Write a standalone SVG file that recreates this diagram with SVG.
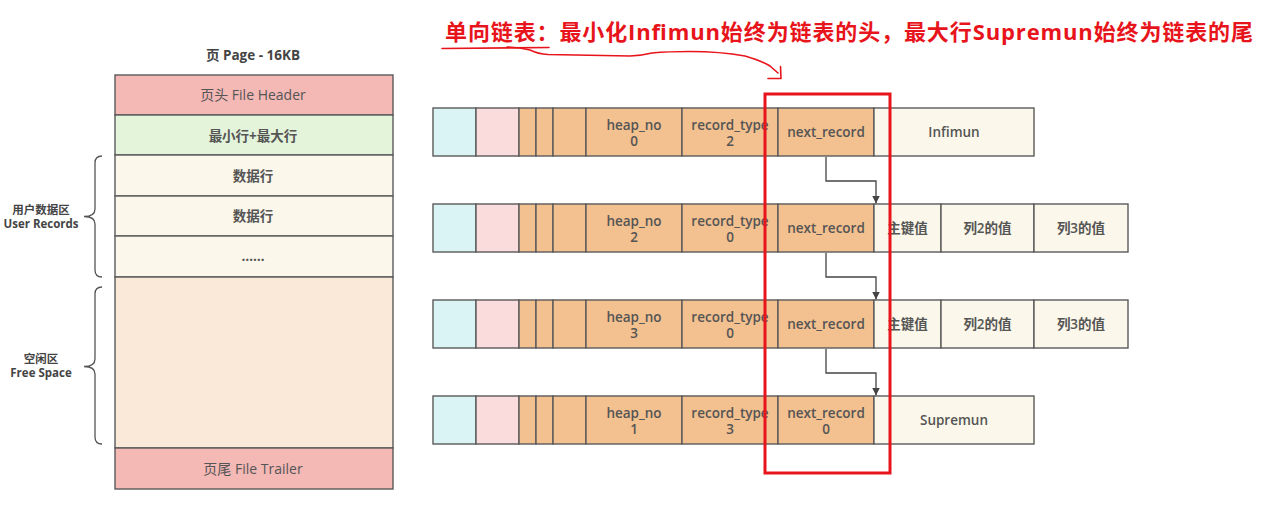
<svg xmlns="http://www.w3.org/2000/svg" width="1276" height="516" viewBox="0 0 1276 516">
<style>
text{font-family:'Open Sans','Noto Sans CJK SC',sans-serif;fill:#555;text-anchor:middle}
.b{font-weight:700}
.sb{font-weight:600;font-size:13.5px}
.c{stroke:#5a5a5a;stroke-width:1.4}
.cy{fill:#DAF3F4}.pk{fill:#F9DCDB}.or{fill:#F3C08F}.cr{fill:#FBF7EA}
.hd{fill:#F4B8B5}.gr{fill:#E3F4DA}.fr{fill:#FAE8D8}
.br{fill:none;stroke:#555;stroke-width:1.3}
.conn{fill:none;stroke:#444;stroke-width:1.3}
.red{fill:none;stroke:#E8141B;stroke-width:1.6;stroke-linecap:round;stroke-linejoin:round}
</style>
<defs>
<marker id="ah" viewBox="0 0 10 10" refX="10" refY="5" markerWidth="8" markerHeight="8" orient="auto" markerUnits="userSpaceOnUse">
<path d="M0,0 L10,5 L0,10 z" fill="#444"/>
</marker>
</defs>
<rect width="1276" height="516" fill="#fff"/>

<g id="page">
<text x="253" y="60" class="b" style="font-size:13.5px;fill:#444">页 Page - 16KB</text>
<rect class="c hd" x="115" y="75" width="278" height="40"/>
<text x="253" y="100" style="font-size:14px">页头 File Header</text>
<rect class="c gr" x="115" y="115" width="278" height="40"/>
<text x="253" y="140.5" class="b" style="font-size:13.5px">最小行+最大行</text>
<rect class="c cr" x="115" y="155" width="278" height="41"/>
<text x="253" y="180.5" class="b" style="font-size:13.5px">数据行</text>
<rect class="c cr" x="115" y="196" width="278" height="40"/>
<text x="253" y="220.5" class="b" style="font-size:13.5px">数据行</text>
<rect class="c cr" x="115" y="236" width="278" height="41"/>
<text x="253" y="261" class="b" style="font-size:13.5px">……</text>
<rect class="c fr" x="115" y="277" width="278" height="171"/>
<rect class="c hd" x="115" y="448" width="278" height="41"/>
<text x="253" y="474" style="font-size:14px">页尾 File Trailer</text>
</g>

<g id="user-records-brace">
<path class="br" d="M102,156 Q95,156 95,163 L95,209 Q95,216.5 84,216.5 Q95,216.5 95,224 L95,270 Q95,277 102,277"/>
<text x="41" y="213.5" class="b" style="font-size:11.5px;fill:#444">用户数据区</text>
<text x="41" y="227.5" class="b" style="font-size:11.5px;fill:#444">User Records</text>
</g>
<g id="free-space-brace">
<path class="br" d="M102,287 Q95,287 95,294 L95,359 Q95,366.5 84,366.5 Q95,366.5 95,374 L95,437 Q95,444 102,444"/>
<text x="41" y="362.5" class="b" style="font-size:11.5px;fill:#444">空闲区</text>
<text x="41" y="376.5" class="b" style="font-size:11.5px;fill:#444">Free Space</text>
</g>

<g id="row-infimum">
<rect class="c cy" x="433" y="108" width="43" height="48"/>
<rect class="c pk" x="476" y="108" width="43" height="48"/>
<rect class="c or" x="519" y="108" width="17" height="48"/>
<rect class="c or" x="536" y="108" width="17" height="48"/>
<rect class="c or" x="553" y="108" width="33" height="48"/>
<rect class="c or" x="586" y="108" width="96" height="48"/>
<rect class="c or" x="682" y="108" width="96" height="48"/>
<rect class="c or" x="778" y="108" width="96" height="48"/>
<rect class="c cr" x="874" y="108" width="160" height="48"/>
<text x="634" y="129.5" class="sb">heap_no</text><text x="634" y="145.5" class="sb">0</text>
<text x="730" y="129.5" class="sb">record_type</text><text x="730" y="145.5" class="sb">2</text>
<text x="826" y="137" class="sb">next_record</text>
<text x="954" y="137" class="sb">Infimun</text>
</g>

<g id="row-2">
<rect class="c cy" x="433" y="204" width="43" height="48"/>
<rect class="c pk" x="476" y="204" width="43" height="48"/>
<rect class="c or" x="519" y="204" width="17" height="48"/>
<rect class="c or" x="536" y="204" width="17" height="48"/>
<rect class="c or" x="553" y="204" width="33" height="48"/>
<rect class="c or" x="586" y="204" width="96" height="48"/>
<rect class="c or" x="682" y="204" width="96" height="48"/>
<rect class="c or" x="778" y="204" width="96" height="48"/>
<rect class="c cr" x="874" y="204" width="67" height="48"/>
<rect class="c cr" x="941" y="204" width="93" height="48"/>
<rect class="c cr" x="1034" y="204" width="94" height="48"/>
<text x="634" y="225.5" class="sb">heap_no</text><text x="634" y="241.5" class="sb">2</text>
<text x="730" y="225.5" class="sb">record_type</text><text x="730" y="241.5" class="sb">0</text>
<text x="826" y="233" class="sb">next_record</text>
<text x="907.5" y="233" class="sb">主键值</text>
<text x="987.5" y="233" class="sb">列2的值</text>
<text x="1081" y="233" class="sb">列3的值</text>
</g>

<g id="row-3">
<rect class="c cy" x="433" y="300" width="43" height="48"/>
<rect class="c pk" x="476" y="300" width="43" height="48"/>
<rect class="c or" x="519" y="300" width="17" height="48"/>
<rect class="c or" x="536" y="300" width="17" height="48"/>
<rect class="c or" x="553" y="300" width="33" height="48"/>
<rect class="c or" x="586" y="300" width="96" height="48"/>
<rect class="c or" x="682" y="300" width="96" height="48"/>
<rect class="c or" x="778" y="300" width="96" height="48"/>
<rect class="c cr" x="874" y="300" width="67" height="48"/>
<rect class="c cr" x="941" y="300" width="93" height="48"/>
<rect class="c cr" x="1034" y="300" width="94" height="48"/>
<text x="634" y="321.5" class="sb">heap_no</text><text x="634" y="337.5" class="sb">3</text>
<text x="730" y="321.5" class="sb">record_type</text><text x="730" y="337.5" class="sb">0</text>
<text x="826" y="329" class="sb">next_record</text>
<text x="907.5" y="329" class="sb">主键值</text>
<text x="987.5" y="329" class="sb">列2的值</text>
<text x="1081" y="329" class="sb">列3的值</text>
</g>

<g id="row-supremum">
<rect class="c cy" x="433" y="396" width="43" height="48"/>
<rect class="c pk" x="476" y="396" width="43" height="48"/>
<rect class="c or" x="519" y="396" width="17" height="48"/>
<rect class="c or" x="536" y="396" width="17" height="48"/>
<rect class="c or" x="553" y="396" width="33" height="48"/>
<rect class="c or" x="586" y="396" width="96" height="48"/>
<rect class="c or" x="682" y="396" width="96" height="48"/>
<rect class="c or" x="778" y="396" width="96" height="48"/>
<rect class="c cr" x="874" y="396" width="160" height="48"/>
<text x="634" y="417.5" class="sb">heap_no</text><text x="634" y="433.5" class="sb">1</text>
<text x="730" y="417.5" class="sb">record_type</text><text x="730" y="433.5" class="sb">3</text>
<text x="826" y="417.5" class="sb">next_record</text><text x="826" y="433.5" class="sb">0</text>
<text x="954" y="425" class="sb">Supremun</text>
</g>

<g id="connectors">
<path class="conn" d="M826,157 V181 H876 V203.5" marker-end="url(#ah)"/>
<path class="conn" d="M826,253 V277 H876 V299.5" marker-end="url(#ah)"/>
<path class="conn" d="M826,349 V373 H876 V395.5" marker-end="url(#ah)"/>
</g>

<g id="annotation">
<rect x="765" y="94" width="125" height="379" fill="none" stroke="#E8141B" stroke-width="3"/>
<text x="849" y="40" textLength="808" class="b" style="font-size:22px;fill:#E8141B">单向链表：最小化Infimun始终为链表的头，最大行Supremun始终为链表的尾</text>
<path class="red" d="M442,48.5 L549,47.5"/>
<path class="red" d="M507,47 Q520,47.5 530,50 Q538,54 548,54.5 L630,56 Q642,55.5 652,53 Q668,51.5 690,51.5 Q720,51.5 745,56 Q762,61 770,66 L778,73"/>
<path class="red" d="M780.5,66.5 L781,78.5 L768,78.5"/>
</g>
</svg>
